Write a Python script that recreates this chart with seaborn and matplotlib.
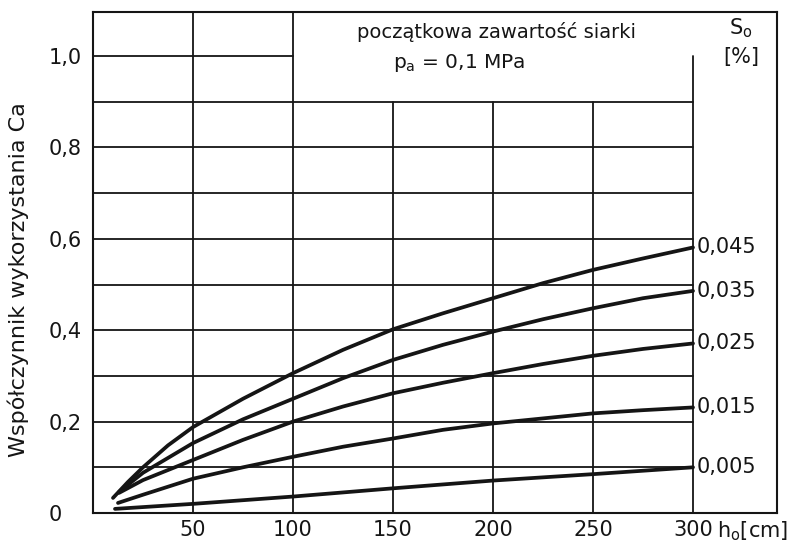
import numpy as np
import pandas as pd
import matplotlib
matplotlib.use("Agg")
import matplotlib.pyplot as plt
import seaborn as sns

# Initial sulfur content S_o [%] for each curve
sulfur = ["0,045", "0,035", "0,025", "0,015", "0,005"]

# Bed height h_o [cm] and Ca utilisation coefficient for each sulfur content
h_045 = [10, 17.5, 25, 37.5, 50, 75, 100, 125, 150, 175, 200, 225, 250, 275, 300]
ca_045 = [0.033, 0.068, 0.100, 0.148, 0.188, 0.250, 0.306, 0.357, 0.402,
          0.437, 0.470, 0.503, 0.532, 0.557, 0.581]

h_035 = [13, 25, 50, 75, 100, 125, 150, 175, 200, 225, 250, 275, 300]
ca_035 = [0.046, 0.088, 0.153, 0.205, 0.250, 0.295, 0.335, 0.368, 0.397,
          0.424, 0.448, 0.470, 0.486]

h_025 = [13, 25, 50, 75, 100, 125, 150, 175, 200, 225, 250, 275, 300]
ca_025 = [0.044, 0.072, 0.116, 0.160, 0.200, 0.233, 0.262, 0.285, 0.306,
          0.326, 0.344, 0.359, 0.371]

h_015 = [12.5, 25, 50, 75, 100, 125, 150, 175, 200, 225, 250, 275, 300]
ca_015 = [0.022, 0.040, 0.075, 0.100, 0.123, 0.145, 0.163, 0.182, 0.196,
          0.207, 0.218, 0.225, 0.231]

h_005 = [11, 50, 100, 150, 200, 250, 300]
ca_005 = [0.009, 0.020, 0.036, 0.054, 0.071, 0.085, 0.100]

x_ticks = [50, 100, 150, 200, 250, 300]
x_tick_labels = ["50", "100", "150", "200", "250", "300"]
y_ticks = [0.0, 0.2, 0.4, 0.6, 0.8, 1.0]
y_tick_labels = ["0", "0,2", "0,4", "0,6", "0,8", "1,0"]

series = [(sulfur[0], h_045, ca_045), (sulfur[1], h_035, ca_035),
          (sulfur[2], h_025, ca_025), (sulfur[3], h_015, ca_015),
          (sulfur[4], h_005, ca_005)]
df = pd.concat([pd.DataFrame({"h": h, "Ca": ca, "S": s}) for s, h, ca in series],
               ignore_index=True)

sns.set_theme(style="white")
plt.rcParams["font.family"] = ["DejaVu Sans"]
plt.rcParams["mathtext.default"] = "regular"

ink = "#151515"
fig = plt.figure(figsize=(7.9, 5.44), dpi=100)
ax = fig.add_axes([93 / 790, 1 - 513 / 544, 684 / 790, 501 / 544])

XMAX, YMAX = 342.0, 1.0963
ax.set_xlim(0, XMAX)
ax.set_ylim(0, YMAX)

# nomogram grid: partial lines leave room for the header box and the label column
grid_kw = dict(color=ink, linewidth=1.3, zorder=1)
for yv in np.arange(0.1, 0.95, 0.1):
    ax.axhline(yv, xmin=0, xmax=300 / XMAX, **grid_kw)
ax.axhline(1.0, xmin=0, xmax=100 / XMAX, **grid_kw)
for xv in (50, 100):
    ax.axvline(xv, ymin=0, ymax=1, **grid_kw)
for xv in (150, 200, 250):
    ax.axvline(xv, ymin=0, ymax=0.9 / YMAX, **grid_kw)
ax.axvline(300, ymin=0, ymax=1.0 / YMAX, **grid_kw)

sns.lineplot(data=df, x="h", y="Ca", hue="S", hue_order=sulfur,
             palette=[ink] * len(sulfur), estimator=None, legend=False,
             linewidth=2.7, ax=ax, zorder=3)

# curve labels in the right-hand column
for s, h, ca in series:
    ax.text(302, ca[-1], s, ha="left", va="center", fontsize=15, color=ink)

for sp in ax.spines.values():
    sp.set_color(ink)
    sp.set_linewidth(1.5)

ax.set_xticks(x_ticks)
ax.set_xticklabels(x_tick_labels)
ax.set_yticks(y_ticks)
ax.set_yticklabels(y_tick_labels)
ax.tick_params(axis="x", length=0, pad=5, labelsize=15, colors=ink)
ax.tick_params(axis="y", length=0, pad=32, labelsize=15, colors=ink)
for lab in ax.get_yticklabels():
    lab.set_horizontalalignment("left")
ax.set_xlabel("")
ax.set_ylabel("")

fig.text(18 / 790, 1 - 280 / 544, "Współczynnik wykorzystania Ca", rotation=90,
         ha="center", va="center", fontsize=16, color=ink)
fig.text(717 / 790, 1 - 531 / 544, "h$_o$[cm]", ha="left", va="center",
         fontsize=15, color=ink)

# header box
ax.text(202, 1.052, "początkowa zawartość siarki",
        ha="center", va="center", fontsize=14, color=ink)
ax.text(183, 0.985, "p$_a$ = 0,1 MPa",
        ha="center", va="center", fontsize=14.5, color=ink)
ax.text(324, 1.061, "S$_o$", ha="center", va="center", fontsize=15, color=ink)
ax.text(324, 0.998, "[%]", ha="center", va="center", fontsize=15, color=ink)

fig.savefig("out.png", dpi=100, facecolor="white")
